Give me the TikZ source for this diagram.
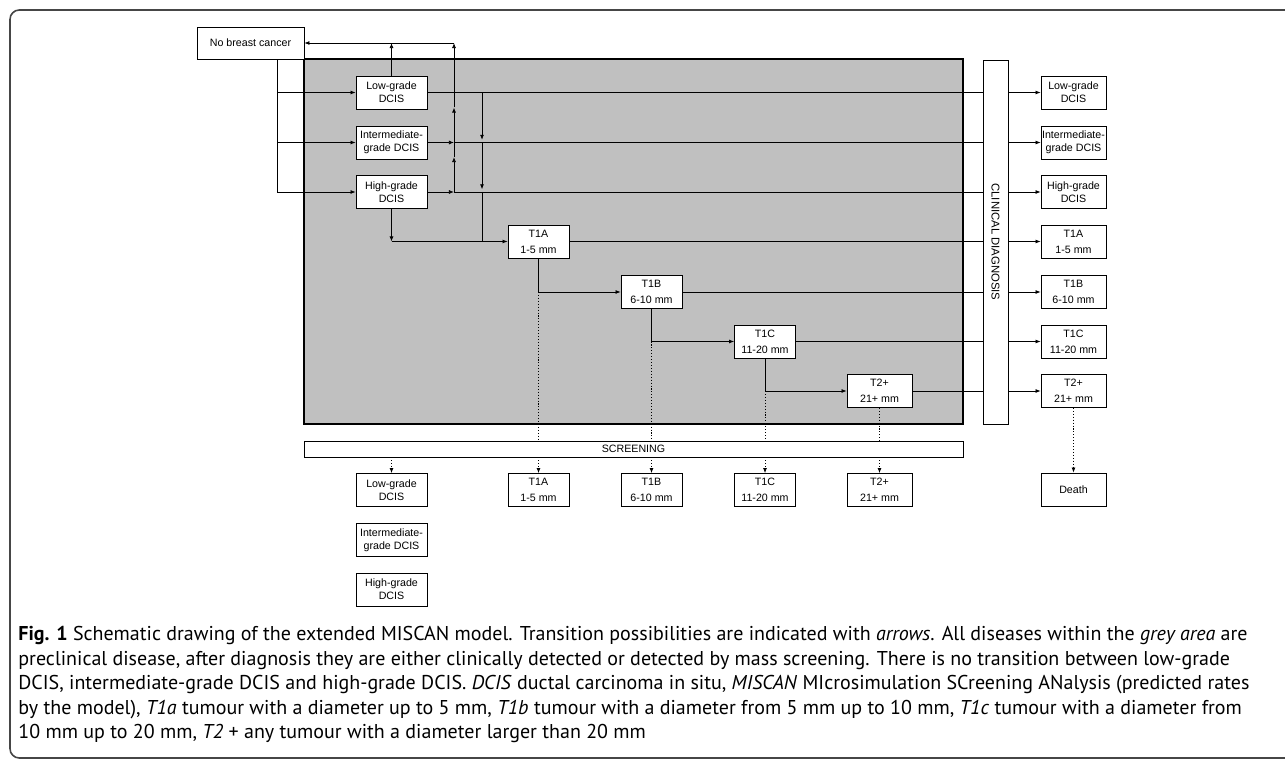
\documentclass[tikz,border=0pt]{standalone}
\usepackage{fontspec}
\setsansfont{Liberation Sans}
\newfontfamily\capfont{PT Sans}
\usetikzlibrary{arrows.meta,positioning}
\definecolor{areagrey}{RGB}{192,192,192}
\definecolor{framegrey}{RGB}{70,70,70}
\tikzstyle{stage} = [draw, fill=white, line width=0.6pt, inner sep=0pt, align=center, font=\sffamily\fontsize{8}{9.75}\selectfont]
\tikzstyle{dcis} = [stage, minimum width=53.25pt, minimum height=24.75pt]
\tikzstyle{tumour} = [stage, minimum width=45.75pt, minimum height=24.75pt, font=\sffamily\fontsize{8}{12}\selectfont]
\tikzstyle{outcome} = [stage, minimum width=48.75pt, minimum height=24.75pt]
\tikzstyle{screen} = [dash pattern=on 0.8pt off 1.4pt]

\begin{document}
\begin{tikzpicture}[x=0.75pt, y=-0.75pt, line width=0.6pt, >={Latex[length=3.8pt,width=3pt]}]
        \useasboundingbox (0,0) rectangle (1285,759);
        \draw[framegrey, line width=1.2pt, rounded corners=7pt] (1290,10) -- (10,10) -- (10,758) -- (1290,758);

        % preclinical (grey) area
        \filldraw[fill=areagrey, line width=1.3pt] (304,59) rectangle (963,424);

        \node[stage, minimum width=80.25pt, minimum height=24pt] (nobc) at (250.5,43) {No breast cancer};

        \node[dcis] (low) at (391.5,92.5) {Low-grade\\DCIS};
        \node[dcis] (inter) at (391.5,142.5) {Intermediate-\\grade DCIS};
        \node[dcis] (high) at (391.5,192) {High-grade\\DCIS};

        \node[tumour] (t1a) at (538.5,241.5) {T1A\\1-5 mm};
        \node[tumour] (t1b) at (651.5,292) {T1B\\6-10 mm};
        \node[tumour] (t1c) at (765,341.5) {T1C\\11-20 mm};
        \node[tumour, minimum width=48.75pt] (t2) at (879.5,391) {T2+\\21+ mm};

        \node[stage, minimum width=18.75pt, minimum height=273pt,
            label={[rotate=-90, font=\sffamily\fontsize{8.5}{10}\selectfont]center:CLINICAL DIAGNOSIS}] (clin) at (995.5,242) {};
        \node[stage, minimum width=494.25pt, minimum height=12pt] (scr) at (633.5,449) {SCREENING};

        % clinically detected
        \coordinate (outcol) at (1073.5,0);
        \node[outcome] (clow) at (outcol |- low) {Low-grade\\DCIS};
        \node[outcome] (cinter) at (outcol |- inter) {Intermediate-\\grade DCIS};
        \node[outcome] (chigh) at (outcol |- high) {High-grade\\DCIS};
        \node[outcome, font=\sffamily\fontsize{8}{12}\selectfont] (ct1a) at (outcol |- t1a) {T1A\\1-5 mm};
        \node[outcome, font=\sffamily\fontsize{8}{12}\selectfont] (ct1b) at (outcol |- t1b) {T1B\\6-10 mm};
        \node[outcome, font=\sffamily\fontsize{8}{12}\selectfont] (ct1c) at (outcol |- t1c) {T1C\\11-20 mm};
        \node[outcome, font=\sffamily\fontsize{8}{12}\selectfont] (ct2) at (outcol |- t2) {T2+\\21+ mm};
        \node[outcome] (death) at (1073.5,489.5) {Death};

        % screen detected
        \coordinate (scrrow) at (0,490);
        \node[dcis] (slow) at (low |- scrrow) {Low-grade\\DCIS};
        \node[dcis, below=12pt of slow] (sinter) {Intermediate-\\grade DCIS};
        \node[dcis, below=12pt of sinter] (shigh) {High-grade\\DCIS};
        \node[tumour] (st1a) at (t1a |- scrrow) {T1A\\1-5 mm};
        \node[tumour] (st1b) at (t1b |- scrrow) {T1B\\6-10 mm};
        \node[tumour] (st1c) at (t1c |- scrrow) {T1C\\11-20 mm};
        \node[tumour, minimum width=48.75pt] (st2) at (t2 |- scrrow) {T2+\\21+ mm};

        % onset
        \coordinate (onset) at (277,0);
        \draw (nobc.south -| onset) -- (onset |- high);
        \foreach \n in {low,inter,high}
            \draw[->] (onset |- \n) -- (\n);

        % regression
        \coordinate (regress) at (454,0);
        \draw[->] (low.north) -- (low.north |- nobc.east);
        \draw[->] (regress |- nobc.east) -- (nobc.east);
        \draw[->] (inter) -- (regress |- inter);
        \draw[->] (high) -- (regress |- high);
        \draw[->] (regress |- high) -- ([yshift=26.25pt]regress |- high);
        \draw[->] ([yshift=26.25pt]regress |- high) -- ([yshift=26.25pt]regress |- inter);
        \draw[->] ([yshift=26.25pt]regress |- inter) -- (regress |- nobc.east);

        % to clinical diagnosis
        \draw (low) -- (low -| clin.west);
        \draw (regress |- inter) -- (inter -| clin.west);
        \draw (regress |- high) -- (high -| clin.west);
        \foreach \n in {t1a,t1b,t1c,t2}
            \draw (\n) -- (\n -| clin.west);
        \foreach \n in {low,inter,high,t1a,t1b,t1c,t2}
            \draw[->] (c\n -| clin.east) -- (c\n);
        \draw[screen, ->] (ct2) -- (death);

        % progression
        \coordinate (progress) at (482,0);
        \draw[->, shorten >=2pt] (progress |- low) -- (progress |- inter);
        \draw[->, shorten >=2pt] (progress |- inter) -- (progress |- high);
        \draw (progress |- high) -- (progress |- t1a);
        \draw[->] (high.south) -- (high.south |- t1a);
        \draw[->] (high.south |- t1a) -- (t1a);
        \draw[->] (t1a.south) |- (t1b);
        \draw[->] (t1b.south) |- (t1c);
        \draw[->] (t1c.south) |- (t2);

        % screening
        \draw[screen] (t1a.south |- t1b) -- (t1a.south |- scr.north);
        \draw[screen] (t1b.south |- t1c) -- (t1b.south |- scr.north);
        \draw[screen] (t1c.south |- t2) -- (t1c.south |- scr.north);
        \draw[screen] (t2.south) -- (t2.south |- scr.north);
        \foreach \n in {low,t1a,t1b,t1c,t2}
            \draw[screen, ->] (s\n |- scr.south) -- (s\n);

        \node[anchor=north west, align=left, inner sep=0pt, font=\capfont\fontsize{15}{18.4}\selectfont] (caption) at (18,626)
            {\textbf{Fig. 1} Schematic drawing of the extended MISCAN model. Transition possibilities are indicated with \textit{arrows}. All diseases within the \textit{grey area} are\\
            preclinical disease, after diagnosis they are either clinically detected or detected by mass screening. There is no transition between low-grade\\
            DCIS, intermediate-grade DCIS and high-grade DCIS. \textit{DCIS} ductal carcinoma in situ, \textit{MISCAN} MIcrosimulation SCreening ANalysis (predicted rates\\
            by the model), \textit{T1a} tumour with a diameter up to 5 mm, \textit{T1b} tumour with a diameter from 5 mm up to 10 mm, \textit{T1c} tumour with a diameter from\\
            10 mm up to 20 mm, \textit{T2} + any tumour with a diameter larger than 20 mm};
\end{tikzpicture}
\end{document}
